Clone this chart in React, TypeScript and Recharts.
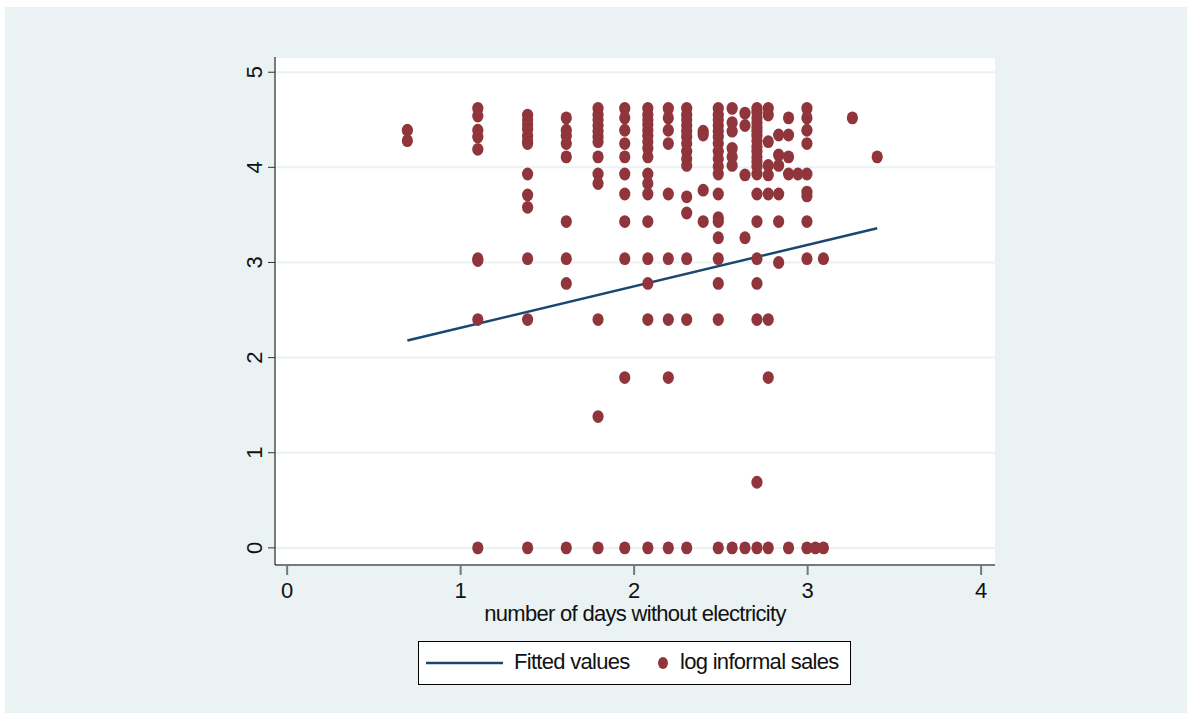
import React from 'react'
import { ScatterChart, Scatter, XAxis, YAxis, CartesianGrid, Label } from 'recharts'

// x = log of number of days without electricity, one entry per column of dots
const colX = [0.693, 1.099, 1.386, 1.609, 1.792, 1.946, 2.079, 2.197, 2.303, 2.398, 2.485, 2.565, 2.639, 2.708, 2.773, 2.833, 2.89, 2.944, 2.996, 3.045, 3.091, 3.258, 3.401]

// log informal sales observed in each column (same order as colX)
const colY: number[][] = [
  [4.39, 4.28],
  [4.62, 4.54, 4.39, 4.32, 4.19, 3.04, 3.02, 2.4, 0],
  [4.55, 4.5, 4.45, 4.4, 4.33, 4.28, 4.25, 3.93, 3.71, 3.58, 3.04, 2.4, 0],
  [4.52, 4.39, 4.33, 4.25, 4.11, 3.43, 3.04, 2.78, 0],
  [4.62, 4.55, 4.5, 4.44, 4.38, 4.32, 4.27, 4.11, 3.93, 3.83, 2.4, 1.38, 0],
  [4.62, 4.52, 4.39, 4.25, 4.11, 3.93, 3.72, 3.43, 3.04, 1.79, 0],
  [4.62, 4.55, 4.5, 4.45, 4.39, 4.33, 4.27, 4.2, 4.11, 3.93, 3.83, 3.72, 3.43, 3.04, 2.78, 2.4, 0],
  [4.62, 4.52, 4.39, 4.25, 3.72, 3.04, 2.4, 1.79, 0],
  [4.62, 4.55, 4.5, 4.44, 4.38, 4.32, 4.25, 4.17, 4.09, 4.02, 3.69, 3.52, 3.04, 2.4, 0],
  [4.38, 4.34, 3.76, 3.43],
  [4.62, 4.55, 4.5, 4.44, 4.38, 4.32, 4.25, 4.17, 4.09, 4.01, 3.93, 3.72, 3.47, 3.43, 3.26, 3.04, 2.78, 2.4, 0],
  [4.62, 4.47, 4.38, 4.2, 4.11, 4.02, 0],
  [4.57, 4.44, 3.92, 3.26, 0],
  [4.62, 4.58, 4.52, 4.47, 4.42, 4.38, 4.33, 4.28, 4.22, 4.17, 4.11, 4.06, 4.01, 3.93, 3.72, 3.43, 3.04, 2.78, 2.4, 0.69, 0],
  [4.62, 4.55, 4.27, 4.02, 3.92, 3.72, 2.4, 1.79, 0],
  [4.34, 4.13, 4.02, 3.72, 3.43, 3.0],
  [4.52, 4.34, 4.11, 3.93, 0],
  [3.93],
  [4.62, 4.52, 4.39, 4.25, 3.93, 3.74, 3.7, 3.43, 3.04, 0],
  [0],
  [3.04, 0],
  [4.52],
  [4.11],
]

// fitted regression line, read at its two ends
const fitX = [0.693, 3.401]
const fitY = [2.18, 3.36]

const xTicks = [0, 1, 2, 3, 4]
const yTicks = [0, 1, 2, 3, 4, 5]

const MAROON = '#90353b'
const NAVY = '#1a476f'
const BG = '#eaf2f3'
const FONT = '"Liberation Sans", Arial, sans-serif'

const points = colX.flatMap((x, i) => colY[i].map(y => ({ x, y })))
const fitted = fitX.map((x, i) => ({ x, y: fitY[i] }))

const Dot = (p: any) => <ellipse cx={p.cx} cy={p.cy} rx={5.6} ry={6.4} fill={MAROON} />

const YTick = ({ x, y, payload }: any) => (
  <text
    x={x} y={y}
    transform={`rotate(-90 ${x} ${y})`}
    textAnchor="middle"
    fontFamily={FONT} fontSize={22} fill="#111"
  >
    {payload.value}
  </text>
)

const XTick = ({ x, y, payload }: any) => (
  <text x={x} y={y} dy={15} textAnchor="middle" fontFamily={FONT} fontSize={22} fill="#111">
    {payload.value}
  </text>
)

const XTitle = ({ viewBox }: any) => (
  <text
    x={viewBox.x + viewBox.width / 2} y={viewBox.y + 56}
    textAnchor="middle" fontFamily={FONT} fontSize={22} letterSpacing={-0.7} fill="#111"
  >
    number of days without electricity
  </text>
)

export default function App() {
  return (
    <div style={{ position: 'absolute', left: 0, top: 0, width: 1192, height: 720, background: '#fff' }}>
      <div style={{ position: 'absolute', left: 5, top: 7, width: 1182, height: 706, background: BG }} />
      <div style={{ position: 'absolute', left: 0, top: 0 }}>
        <ScatterChart width={1192} height={720} margin={{ top: 57, right: 197, bottom: 85, left: 215 }}>
          <CartesianGrid vertical={false} fill="#fff" stroke={BG} strokeWidth={2} />
          <XAxis
            type="number" dataKey="x" domain={[-0.07, 4.08]} ticks={xTicks}
            height={70} tickSize={10} tickMargin={8}
            axisLine={{ stroke: '#000' }} tickLine={{ stroke: '#777', strokeWidth: 2 }}
            tick={<XTick />} allowDataOverflow
          >
            <Label content={<XTitle />} />
          </XAxis>
          <YAxis
            type="number" dataKey="y" domain={[-0.18, 5.16]} ticks={yTicks}
            width={60} tickSize={7} tickMargin={6}
            axisLine={{ stroke: '#000' }} tickLine={{ stroke: '#333' }}
            tick={<YTick />} allowDataOverflow
          />
          <Scatter
            data={fitted} line={{ stroke: NAVY, strokeWidth: 2.5 }}
            shape={() => <g />} isAnimationActive={false}
          />
          <Scatter data={points} shape={Dot} isAnimationActive={false} />
        </ScatterChart>
      </div>
      {/* legend box */}
      <div style={{
        position: 'absolute', left: 418, top: 641, width: 431, height: 42,
        border: '1px solid #000', background: '#fff', fontFamily: FONT, fontSize: 22,
        letterSpacing: -0.7, color: '#111',
      }}>
        <svg width={431} height={42} style={{ position: 'absolute', left: 0, top: 0 }}>
          <line x1={7} x2={84} y1={21} y2={21} stroke={NAVY} strokeWidth={2.5} />
          <ellipse cx={244} cy={21} rx={5} ry={6} fill={MAROON} />
        </svg>
        <span style={{ position: 'absolute', left: 95, top: 7, lineHeight: '26px' }}>Fitted values</span>
        <span style={{ position: 'absolute', left: 261, top: 7, lineHeight: '26px' }}>log informal sales</span>
      </div>
    </div>
  )
}
